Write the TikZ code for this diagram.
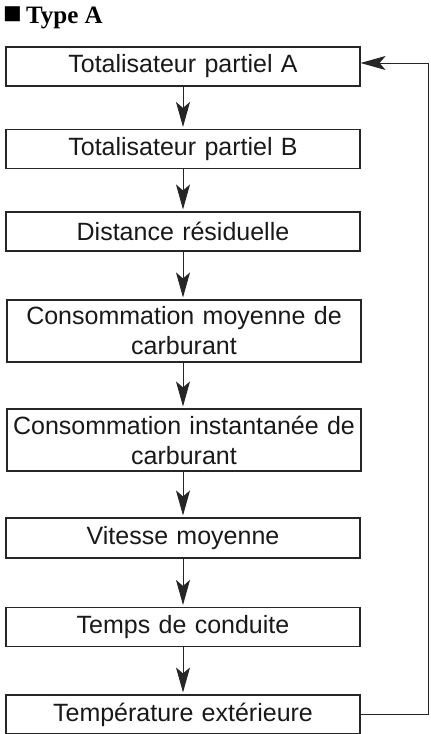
\documentclass[tikz,border=0pt]{standalone}
\usepackage{fontspec}
\setmainfont{Liberation Serif}
\newfontfamily\boxfont{Liberation Sans}
\usetikzlibrary{arrows.meta}
\definecolor{trait}{gray}{0.15}
\tikzset{
    menu/.style={draw=trait, line width=1.1pt, minimum width=354pt,
        minimum height=39pt, inner sep=0pt, text width=350pt, align=center,
        font=\boxfont\fontsize{25}{30}\selectfont, text=black!90},
    suite/.style={-{Stealth[length=25pt, width=14pt, inset=6pt]}, draw=trait,
        line width=0.9pt, shorten >=2pt}
}
\begin{document}
\begin{tikzpicture}[x=1pt, y=-1pt]
    \useasboundingbox (0,0) rectangle (431,734);
    % Titre
    \node[anchor=base west, inner sep=0pt, font=\bfseries\fontsize{25}{29}\selectfont]
    (titre) at (3,23.5) {{\fontsize{31}{31}\selectfont ■}\,Type A};

    % Les ecrans
    \node[menu] (totA) at (183,66.5) {Totalisateur partiel A};
    \node[menu] (totB) at (183,149) {Totalisateur partiel B};
    \node[menu] (dist) at (183,231.5) {Distance résiduelle};
    \node[menu, minimum height=62pt] (moy) at (184,331) {Consommation moyenne de\\carburant};
    \node[menu, minimum height=62pt] (inst) at (184,440) {Consommation instantanée de\\carburant};
    \node[menu, minimum height=40pt] (vit) at (183,538) {Vitesse moyenne};
    \node[menu] (temps) at (183,627) {Temps de conduite};
    \node[menu] (temp) at (183,714.5) {Température extérieure};

    % Fleches
    \draw[suite] (totA) -- (totB);
    \draw[suite] (totB) -- (dist);
    \draw[suite] (dist.south) -- (dist.south |- moy.north);
    \draw[suite] (moy.south -| dist.south) -- (inst.north -| dist.south);
    \draw[suite] (inst.south -| dist.south) -- (vit.north);
    \draw[suite] (vit) -- (temps);
    \draw[suite] (temps) -- (temp);

    % Retour au debut
    \draw[suite, shorten >=0pt] (temp.east) -- ++(68,0) |- ([yshift=3.5pt]totA.east);
\end{tikzpicture}
\end{document}
